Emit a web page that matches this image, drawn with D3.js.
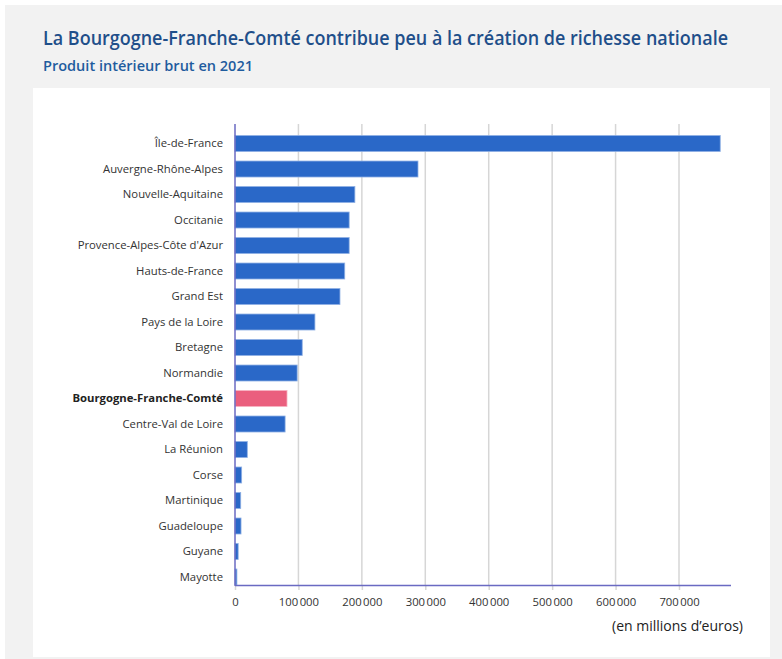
<!DOCTYPE html>
<html>
<head>
<meta charset="utf-8">
<script src="https://cdn.jsdelivr.net/npm/d3@7"></script>
<style>
  body { margin: 0; background: #fff; }
  svg { display: block; font-family: "Open Sans", "Noto Sans", sans-serif; }
</style>
</head>
<body>
<div class="main"></div>
<script>
// PIB 2021 par région, en millions d'euros
const regions = [
  "Île-de-France", "Auvergne-Rhône-Alpes", "Nouvelle-Aquitaine", "Occitanie",
  "Provence-Alpes-Côte d'Azur", "Hauts-de-France", "Grand Est", "Pays de la Loire",
  "Bretagne", "Normandie", "Bourgogne-Franche-Comté", "Centre-Val de Loire",
  "La Réunion", "Corse", "Martinique", "Guadeloupe", "Guyane", "Mayotte"
];
const pib = [
  765000, 288500, 189000, 180000, 180000, 173000, 165500, 126000,
  106000, 98000, 82000, 79000, 19400, 10500, 9000, 9500, 5000, 3000
];
const highlight = "Bourgogne-Franche-Comté";
const xTicks = [0, 100000, 200000, 300000, 400000, 500000, 600000, 700000];

const title = "La Bourgogne-Franche-Comté contribue peu à la création de richesse nationale";
const subtitle = "Produit intérieur brut en 2021";
const unit = "(en millions d\u2019euros)";

const data = regions.map((r, i) => ({ region: r, value: pib[i] }));

let fullwidth = 782;
let fullheight = 659;

const svg = d3
  .select(".main")
  .append("svg")
  .attr("width", fullwidth)
  .attr("height", fullheight);

// fond gris + panneau blanc
svg.append("rect").attr("x", 5).attr("y", 5).attr("width", fullwidth - 5).attr("height", fullheight - 5).attr("fill", "#f2f2f2");
svg.append("rect").attr("x", 33).attr("y", 88).attr("width", 737).attr("height", 569).attr("fill", "#fff");

svg.append("text")
  .attr("x", 43).attr("y", 45)
  .attr("fill", "#1f4f8a")
  .style("font-size", "19px")
  .style("font-weight", 600)
  .attr("textLength", 685).attr("lengthAdjust", "spacingAndGlyphs")
  .text(title);

svg.append("text")
  .attr("x", 43).attr("y", 71)
  .attr("fill", "#1f5c9e")
  .style("font-size", "14px")
  .style("font-weight", 600)
  .attr("textLength", 210).attr("lengthAdjust", "spacingAndGlyphs")
  .text(subtitle);

const x = d3.scaleLinear().domain([0, 700000]).range([235, 679]);
const y = d3.scaleBand()
  .domain(regions)
  .range([124, 585])
  .paddingInner(0.373)
  .paddingOuter(0.226)
  .align(1);

const fr = d3.formatLocale({ decimal: ",", thousands: "\u202f", grouping: [3], currency: ["", " €"] });
const fmt = fr.format(",d");

// grille
svg.append("g")
  .selectAll("line")
  .data(xTicks.slice(1))
  .join("line")
  .attr("x1", (d) => x(d)).attr("x2", (d) => x(d))
  .attr("y1", 124).attr("y2", 585)
  .attr("stroke", "#d6d6d6")
  .attr("stroke-width", 1.5);

// barres
svg.append("g")
  .selectAll("rect")
  .data(data)
  .join("rect")
  .attr("x", x(0))
  .attr("y", (d) => y(d.region))
  .attr("width", (d) => x(d.value) - x(0))
  .attr("height", y.bandwidth())
  .attr("fill", (d) => (d.region === highlight ? "#ea5f7e" : "#2a68c8"))
  .attr("stroke", (d) => (d.region === highlight ? "#f7b3c2" : "#8fb0e4"))
  .attr("stroke-width", 0.8);

// axe y
const yAxis = svg.append("g")
  .attr("transform", "translate(" + x(0) + ",0)")
  .call(d3.axisLeft(y).tickSize(0).tickPadding(12));
yAxis.select(".domain").remove();
yAxis.selectAll("text")
  .style("font-size", "11.3px")
  .style("font-family", "'Open Sans', sans-serif")
  .style("font-weight", (d) => (d === highlight ? 700 : 400))
  .attr("fill", (d) => (d === highlight ? "#222" : "#333"));

svg.append("line")
  .attr("x1", x(0)).attr("x2", x(0))
  .attr("y1", 124).attr("y2", 586)
  .attr("stroke", "#6a6ac2").attr("stroke-width", 1.5);

// axe x
const xAxis = svg.append("g")
  .attr("transform", "translate(0,585)")
  .call(d3.axisBottom(x).tickValues(xTicks).tickFormat(fmt).tickSize(5).tickPadding(8));
xAxis.select(".domain").remove();
xAxis.selectAll(".tick line").attr("stroke", "#d6d6d6").attr("stroke-width", 1.5);
xAxis.selectAll("text")
  .style("font-size", "11.3px")
  .style("font-family", "'Open Sans', sans-serif")
  .attr("fill", "#333");

svg.append("line")
  .attr("x1", x(0)).attr("x2", 731)
  .attr("y1", 585.5).attr("y2", 585.5)
  .attr("stroke", "#6a6ac2").attr("stroke-width", 1.5);

svg.append("text")
  .attr("x", 743).attr("y", 631)
  .attr("text-anchor", "end")
  .attr("fill", "#222")
  .style("font-size", "14px")
  .text(unit);
</script>
</body>
</html>
